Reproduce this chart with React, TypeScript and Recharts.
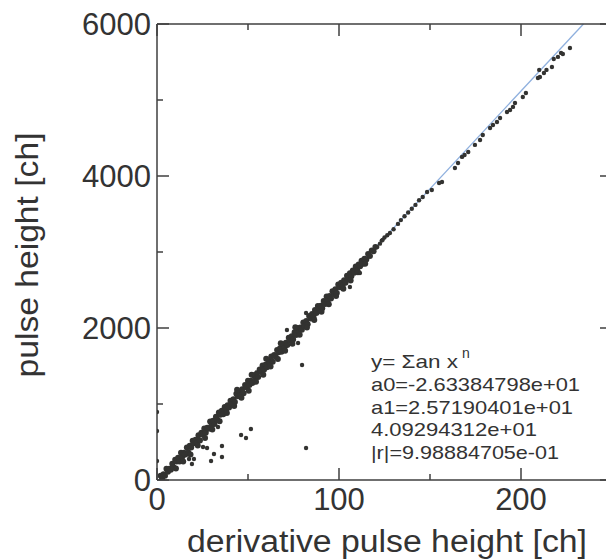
import React from 'react';
import { ScatterChart, Scatter, XAxis, YAxis, ReferenceLine } from 'recharts';

// fit coefficients shown in the annotation
const a0 = -26.3384798;
const a1 = 25.7190401;

const xTicks = [0, 50, 100, 150, 200, 250];
const xMajor = [0, 100, 200];
const yTicks = [0, 1000, 2000, 3000, 4000, 5000, 6000];
const yMajor = [0, 2000, 4000, 6000];

const annotationLines = [
  'a0=-2.63384798e+01',
  'a1=2.57190401e+01',
  '4.09294312e+01',
  '|r|=9.98884705e-01',
];
const annotationWidths = [209, 202, 166, 188];

const bandLow: [number, number][] = [
  [2.0, 55], [2.8, 20], [3.6, 77], [4.4, 57], [5.2, 148], [6.0, 108], [6.8, 149], [7.6, 134],
  [8.4, 215], [9.2, 166], [10.0, 266], [10.8, 242], [11.6, 292], [12.4, 243], [13.2, 358], [14.0, 309],
  [14.8, 360], [15.6, 335], [16.4, 426], [17.2, 361], [18.0, 452], [18.8, 428], [19.6, 518], [20.4, 484],
  [21.2, 529], [22.0, 495], [22.8, 590], [23.6, 521], [24.4, 622], [25.2, 597], [26.0, 678], [26.8, 623],
  [27.6, 689], [28.4, 674], [29.2, 770], [30.0, 726], [30.8, 781], [31.6, 737], [32.4, 832], [33.2, 793],
  [34.0, 888], [34.8, 859], [35.6, 910], [36.4, 865], [37.2, 961], [38.0, 926], [38.8, 982], [39.6, 953],
  [10.4, 151], [14.4, 244], [18.4, 337], [22.4, 455], [26.4, 553], [30.4, 666], [34.4, 774], [38.4, 882],
];

const bandMid: [number, number][] = [
  [40.4, 1043], [41.2, 999], [42.0, 1064], [42.8, 1025], [43.6, 1135], [44.4, 1101], [45.2, 1162], [46.0, 1117],
  [46.8, 1193], [47.6, 1143], [48.4, 1249], [49.2, 1219], [50.0, 1305], [50.8, 1251], [51.6, 1306], [52.4, 1277],
  [53.2, 1377], [54.0, 1348], [54.8, 1403], [55.6, 1354], [56.4, 1455], [57.2, 1420], [58.0, 1506], [58.8, 1451],
  [59.6, 1517], [60.4, 1482], [61.2, 1573], [62.0, 1549], [62.8, 1624], [63.6, 1555], [64.4, 1645], [65.2, 1621],
  [66.0, 1712], [66.8, 1682], [67.6, 1733], [68.4, 1688], [69.2, 1784], [70.0, 1744], [70.8, 1805], [71.6, 1776],
  [72.4, 1871], [73.2, 1837], [74.0, 1892], [74.8, 1848], [75.6, 1943], [76.4, 1909], [77.2, 2000], [78.0, 1965],
  [78.8, 2006], [79.6, 1976],
  [42.4, 975], [46.4, 1082], [50.4, 1175], [54.4, 1293], [58.4, 1386], [62.4, 1494], [66.4, 1592], [70.4, 1700],
  [74.4, 1792], [78.4, 1910], [44.0, 1186], [52.0, 1386], [60.0, 1597], [68.0, 1798], [76.0, 2009],
];

const bandHigh: [number, number][] = [
  [80.4, 2072], [81.2, 2022], [82.0, 2093], [82.8, 2049], [83.6, 2159], [84.4, 2125], [85.2, 2185], [86.0, 2141],
  [86.8, 2236], [87.6, 2197], [88.4, 2288], [89.2, 2253], [90.0, 2294], [90.8, 2259], [91.6, 2355], [92.4, 2315],
  [93.2, 2416], [94.0, 2372], [94.8, 2422], [95.6, 2388], [96.4, 2483], [97.2, 2449], [98.0, 2510], [98.8, 2460],
  [99.6, 2571], [100.4, 2536], [101.2, 2597], [102.0, 2557], [102.8, 2628], [103.6, 2594], [104.4, 2689], [105.2, 2650],
  [106.0, 2720], [106.8, 2681], [107.6, 2756], [108.4, 2727], [109.2, 2808], [110.0, 2758], [110.8, 2834], [111.6, 2814],
  [112.4, 2885], [113.2, 2845], [114.0, 2911], [115.0, 2902], [116.0, 2973], [117.0, 2948], [118.0, 3019], [119.0, 3010],
  [120.0, 3065],
  [82.4, 2008], [86.4, 2106], [90.4, 2214], [94.4, 2312], [98.4, 2420], [102.4, 2518], [106.4, 2626], [110.4, 2733],
  [114.4, 2846],
];

const sparse: [number, number][] = [
  [121.0, 3066], [122.5, 3110], [123.5, 3150], [124.0, 3160], [125.0, 3190], [126.5, 3220], [128.0, 3250],
  [130.0, 3300], [132.4, 3370], [134.0, 3420], [136.0, 3470], [138.0, 3520], [140.0, 3570], [142.0, 3620],
  [144.0, 3680], [146.0, 3724], [148.4, 3790], [151.0, 3816], [155.0, 3908], [156.6, 3922], [163.7, 4106],
  [165.4, 4172], [167.6, 4251], [169.0, 4277], [171.0, 4316], [174.7, 4409], [177.5, 4474], [179.0, 4540],
  [183.0, 4632], [184.6, 4672], [186.8, 4711], [188.5, 4764], [192.3, 4843], [194.0, 4869], [195.6, 4909],
  [196.7, 4961], [201.0, 5040], [202.7, 5093], [209.3, 5290], [210.4, 5303], [210.0, 5396], [212.6, 5356],
  [214.0, 5396], [217.0, 5435], [218.0, 5540], [220.3, 5567], [222.0, 5620], [223.0, 5606], [226.9, 5685],
];

const outliers: [number, number][] = [
  [0, 895], [0, 645], [0, 250],
  [33.5, 697], [46.2, 592], [48.9, 553], [51.6, 671], [81.9, 421], [35.7, 447], [31.3, 342],
  [29.7, 250], [35.7, 303], [27.5, 421], [25.3, 434], [19.2, 211], [20.3, 276], [17.6, 276],
  [79.7, 1513], [106.0, 2540], [71.4, 1974], [81.9, 2198], [111.5, 2724], [77.5, 1803],
];

const toPts = (a: [number, number][]) => a.map(([x, y]) => ({ x, y }));
const bandPoints = toPts([...bandLow, ...bandMid, ...bandHigh]);
const loosePoints = toPts([...sparse, ...outliers]);

const AX = '#3f3f3f';
const TXT = '#333333';
const DOT = '#333331';
const FONT = '"Liberation Sans", Arial, sans-serif';

function XTick(props: any) {
  const { x, y, payload, orient } = props;
  const major = xMajor.includes(payload.value);
  const len = major ? 12 : 6;
  const dir = orient === 'bottom' ? -1 : 1;
  return (
    <g>
      <line x1={x} y1={y} x2={x} y2={y + dir * len} stroke={AX} strokeWidth={1.5} />
      {orient === 'bottom' && major && (
        <text x={x} y={y + 30} textAnchor="middle" fontSize={31} fill={TXT} fontFamily={FONT}>
          {payload.value}
        </text>
      )}
    </g>
  );
}

function YTick(props: any) {
  const { x, y, payload, orient } = props;
  const major = yMajor.includes(payload.value);
  const len = major ? 12 : 6;
  const dir = orient === 'left' ? 1 : -1;
  return (
    <g>
      <line x1={x} y1={y} x2={x + dir * len} y2={y} stroke={AX} strokeWidth={1.5} />
      {orient === 'left' && major && (
        <text x={x - 6} y={y + 11} textAnchor="end" fontSize={31} fill={TXT} fontFamily={FONT}>
          {payload.value}
        </text>
      )}
    </g>
  );
}

const BigDot = (props: any) => <circle cx={props.cx} cy={props.cy} r={3} fill={DOT} />;
const SmallDot = (props: any) => <circle cx={props.cx} cy={props.cy} r={2.2} fill={DOT} />;

export default function App() {
  const xs = (0 - a0) / a1;
  const xe = (6000 - a0) / a1;
  return (
    <div style={{ position: 'absolute', left: 0, top: 0, width: 606, height: 560, overflow: 'hidden', background: '#fff' }}>
      <ScatterChart width={620} height={560} margin={{ top: 23, right: 7, bottom: 79, left: 156 }}>
        <XAxis xAxisId="b" dataKey="x" type="number" domain={[0, 250]} ticks={xTicks} orientation="bottom"
          height={1} tickSize={0} tickMargin={0} tickLine={false} axisLine={{ stroke: AX, strokeWidth: 1.5 }}
          tick={<XTick orient="bottom" />} allowDataOverflow interval={0} />
        <XAxis xAxisId="t" dataKey="x" type="number" domain={[0, 250]} ticks={xTicks} orientation="top"
          height={1} tickSize={0} tickMargin={0} tickLine={false} axisLine={{ stroke: AX, strokeWidth: 1.5 }}
          tick={<XTick orient="top" />} allowDataOverflow interval={0} />
        <YAxis yAxisId="l" dataKey="y" type="number" domain={[0, 6000]} ticks={yTicks} orientation="left"
          width={1} tickSize={0} tickMargin={0} tickLine={false} axisLine={{ stroke: AX, strokeWidth: 1.5 }}
          tick={<YTick orient="left" />} allowDataOverflow interval={0} />
        <YAxis yAxisId="r" dataKey="y" type="number" domain={[0, 6000]} ticks={yTicks} orientation="right"
          width={1} tickSize={0} tickMargin={0} tickLine={false} axisLine={{ stroke: AX, strokeWidth: 1.5 }}
          tick={<YTick orient="right" />} allowDataOverflow interval={0} />
        <ReferenceLine xAxisId="b" yAxisId="l" segment={[{ x: xs, y: 0 }, { x: xe, y: 6000 }]}
          stroke="#8fb0de" strokeWidth={1.3} />
        <Scatter xAxisId="b" yAxisId="l" data={bandPoints} shape={<BigDot />} isAnimationActive={false} />
        <Scatter xAxisId="b" yAxisId="l" data={loosePoints} shape={<SmallDot />} isAnimationActive={false} />
        <text x={387} y={552} textAnchor="middle" fontSize={31} fill={TXT} fontFamily={FONT}
          textLength={400} lengthAdjust="spacingAndGlyphs">derivative pulse height [ch]</text>
        <text x={0} y={0} transform="translate(38,255) rotate(-90)" textAnchor="middle" fontSize={31} fill={TXT}
          fontFamily={FONT} textLength={245} lengthAdjust="spacingAndGlyphs">pulse height [ch]</text>
        <text x={371} y={368} fontSize={19} fill={TXT} fontFamily={FONT}
          textLength={87} lengthAdjust="spacingAndGlyphs">y= Σan x</text>
        <text x={462} y={358} fontSize={14} fill={TXT} fontFamily={FONT}>n</text>
        {annotationLines.map((t, i) => (
          <text key={i} x={371} y={391 + i * 22.5} fontSize={19} fill={TXT} fontFamily={FONT}
            textLength={annotationWidths[i]} lengthAdjust="spacingAndGlyphs">{t}</text>
        ))}
      </ScatterChart>
    </div>
  );
}
